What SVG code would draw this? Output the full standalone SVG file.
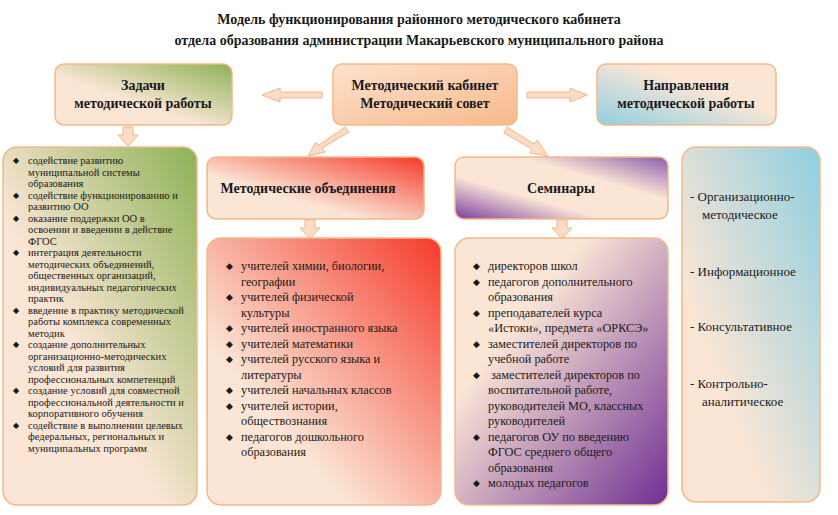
<svg xmlns="http://www.w3.org/2000/svg" width="838" height="515" viewBox="0 0 838 515">
<defs>
<linearGradient id="gG" x1="0" y1="1" x2="1" y2="0"><stop offset="0.4" stop-color="#fbe6d6"/><stop offset="1" stop-color="#8db255"/></linearGradient>
<linearGradient id="gO" x1="0" y1="0" x2="1" y2="1"><stop offset="0" stop-color="#fde2cc"/><stop offset="1" stop-color="#f7b98c"/></linearGradient>
<linearGradient id="gB" x1="1" y1="0" x2="0" y2="1"><stop offset="0.4" stop-color="#fbe6d6"/><stop offset="1" stop-color="#8fcfe0"/></linearGradient>
<linearGradient id="gB2" x1="0" y1="1" x2="1" y2="0"><stop offset="0.3" stop-color="#fbe6d6"/><stop offset="1" stop-color="#8fcfe0"/></linearGradient>
<linearGradient id="gR" x1="0" y1="1" x2="1" y2="0"><stop offset="0.35" stop-color="#fbe6d6"/><stop offset="1" stop-color="#f53a2a"/></linearGradient>
<linearGradient id="gR2" x1="0" y1="1" x2="1" y2="0"><stop offset="0.3" stop-color="#fbe6d6"/><stop offset="1" stop-color="#f53a2a"/></linearGradient>
<linearGradient id="gP" x1="0" y1="1" x2="1" y2="0"><stop offset="0" stop-color="#7a3d9e"/><stop offset="0.35" stop-color="#fbe6d6"/><stop offset="0.65" stop-color="#fbe6d6"/><stop offset="1" stop-color="#8a5cab"/></linearGradient>
<linearGradient id="gP2" x1="0" y1="0" x2="1" y2="1"><stop offset="0.3" stop-color="#fbe6d6"/><stop offset="1" stop-color="#6f2f92"/></linearGradient>
</defs>
<style>
text{font-family:"Liberation Serif","Times New Roman",Tinos,"DejaVu Serif",serif}
.b{stroke:#f4b98a;stroke-width:1.5}
.t{font-weight:bold;font-size:14px;fill:#1a1a1a;text-anchor:middle}
.l{font-size:10.5px;fill:#1a1a1a}
.m{font-size:12.3px;fill:#1a1a1a}
.r{font-size:13px;fill:#1a1a1a}
.a{fill:#fbdcc4;stroke:#f1b58a;stroke-width:1}
</style>
<text class="t" x="419" y="24" font-size="15">Модель функционирования районного методического кабинета</text>
<text class="t" x="419" y="45" font-size="15">отдела образования администрации Макарьевского муниципального района</text>

<g id="connectors">
<polygon class="a" points="322,92 280,92 280,88 262,95 280,102 280,98 322,98"/>
<polygon class="a" points="527,92 570,92 570,88 587,95 570,102 570,98 527,98"/>
<polygon class="a" points="123,127 133,127 133,135 138,135 128,146 118,135 123,135"/>
<polygon class="a" points="345,127 349,132 322,148 325,152 308,156 316,142 319,145"/>
<polygon class="a" points="507,127 534,144 537,140 548,156 530,153 532,149 504,133"/>
<polygon class="a" points="305,220 315,220 315,228 320,228 310,239 300,228 305,228"/>
<polygon class="a" points="557,220 567,220 567,228 572,228 562,239 552,228 557,228"/>
</g>

<g id="zadachi"><rect class="b" x="55" y="64" width="177" height="61" rx="9" fill="url(#gG)"/>
<text class="t" x="143" y="90">Задачи</text><text class="t" x="143" y="108">методической работы</text></g>
<g id="center"><rect class="b" x="333" y="64" width="184" height="61" rx="9" fill="url(#gO)"/>
<text class="t" x="425" y="90">Методический кабинет</text><text class="t" x="425" y="108">Методический совет</text></g>
<g id="napr"><rect class="b" x="597" y="64" width="179" height="61" rx="9" fill="url(#gB)"/>
<text class="t" x="686" y="90">Направления</text><text class="t" x="686" y="108">методической работы</text></g>

<g id="zadachi-list"><rect class="b" x="3" y="147" width="194" height="358" rx="14" fill="url(#gG)"/>
<g class="l">
<text x="28" y="164">содействие развитию</text><text x="28" y="175.5">муниципальной системы</text><text x="28" y="187">образования</text>
<text x="28" y="198.5">содействие функционированию и</text><text x="28" y="210">развитию ОО</text>
<text x="28" y="221.5">оказание поддержки ОО в</text><text x="28" y="233">освоении и введении в действие</text><text x="28" y="244.5">ФГОС</text>
<text x="28" y="256">интеграция деятельности</text><text x="28" y="267.5">методических объединений,</text><text x="28" y="279">общественных организаций,</text><text x="28" y="290.5">индивидуальных педагогических</text><text x="28" y="302">практик</text>
<text x="28" y="313.5">введение в практику методической</text><text x="28" y="325">работы комплекса современных</text><text x="28" y="336.5">методик</text>
<text x="28" y="348">создание дополнительных</text><text x="28" y="359.5">организационно-методических</text><text x="28" y="371">условий для развития</text><text x="28" y="382.5">профессиональных компетенций</text>
<text x="28" y="394">создание условий для совместной</text><text x="28" y="405.5">профессиональной деятельности и</text><text x="28" y="417">корпоративного обучения</text>
<text x="28" y="428.5">содействие в выполнении целевых</text><text x="28" y="440">федеральных, региональных и</text><text x="28" y="451.5">муниципальных программ</text>
<g font-size="8"><text x="13" y="163">◆</text><text x="13" y="197.5">◆</text><text x="13" y="220.5">◆</text><text x="13" y="255">◆</text><text x="13" y="312.5">◆</text><text x="13" y="347">◆</text><text x="13" y="393">◆</text><text x="13" y="427.5">◆</text></g>
</g></g>

<g id="mo"><rect class="b" x="207" y="157" width="217" height="62" rx="9" fill="url(#gR)"/>
<text class="t" x="308" y="193">Методические объединения</text></g>
<g id="sem"><rect class="b" x="455" y="157" width="213" height="62" rx="9" fill="url(#gP)"/>
<text class="t" x="561" y="193">Семинары</text></g>

<g id="mo-list"><rect class="b" x="207" y="238" width="234" height="267" rx="14" fill="url(#gR2)"/>
<g class="m">
<text x="241" y="270">учителей химии, биологии,</text><text x="241" y="285.5">географии</text>
<text x="241" y="301">учителей физической</text><text x="241" y="316.5">культуры</text>
<text x="241" y="332">учителей иностранного языка</text>
<text x="241" y="347.5">учителей математики</text>
<text x="241" y="363">учителей русского языка и</text><text x="241" y="378.5">литературы</text>
<text x="241" y="394">учителей начальных классов</text>
<text x="241" y="409.5">учителей истории,</text><text x="241" y="425">обществознания</text>
<text x="241" y="440.5">педагогов дошкольного</text><text x="241" y="456">образования</text>
<g font-size="9"><text x="226" y="269">◆</text><text x="226" y="300">◆</text><text x="226" y="331">◆</text><text x="226" y="346.5">◆</text><text x="226" y="362">◆</text><text x="226" y="393">◆</text><text x="226" y="408.5">◆</text><text x="226" y="439.5">◆</text></g>
</g></g>

<g id="sem-list"><rect class="b" x="455" y="238" width="213" height="267" rx="14" fill="url(#gP2)"/>
<g class="m">
<text x="488" y="270">директоров школ</text>
<text x="488" y="285.5">педагогов дополнительного</text><text x="488" y="301">образования</text>
<text x="488" y="316.5">преподавателей курса</text><text x="488" y="332">«Истоки», предмета «ОРКСЭ»</text>
<text x="488" y="347.5">заместителей директоров по</text><text x="488" y="363">учебной работе</text>
<text x="491" y="378.5">заместителей директоров по</text><text x="488" y="394">воспитательной работе,</text><text x="488" y="409.5">руководителей МО, классных</text><text x="488" y="425">руководителей</text>
<text x="488" y="440.5">педагогов ОУ по введению</text><text x="488" y="456">ФГОС среднего общего</text><text x="488" y="471.5">образования</text>
<text x="488" y="487">молодых педагогов</text>
<g font-size="9"><text x="473" y="269">◆</text><text x="473" y="284.5">◆</text><text x="473" y="315.5">◆</text><text x="473" y="346.5">◆</text><text x="473" y="377.5">◆</text><text x="473" y="439.5">◆</text><text x="473" y="486">◆</text></g>
</g></g>

<g id="napr-list"><rect class="b" x="682" y="147" width="138" height="355" rx="14" fill="url(#gB2)"/>
<g class="r">
<text x="690" y="201">- Организационно-</text><text x="702" y="219">методическое</text>
<text x="690" y="276">- Информационное</text>
<text x="690" y="331">- Консультативное</text>
<text x="690" y="388">- Контрольно-</text><text x="702" y="406">аналитическое</text>
</g></g>
</svg>
